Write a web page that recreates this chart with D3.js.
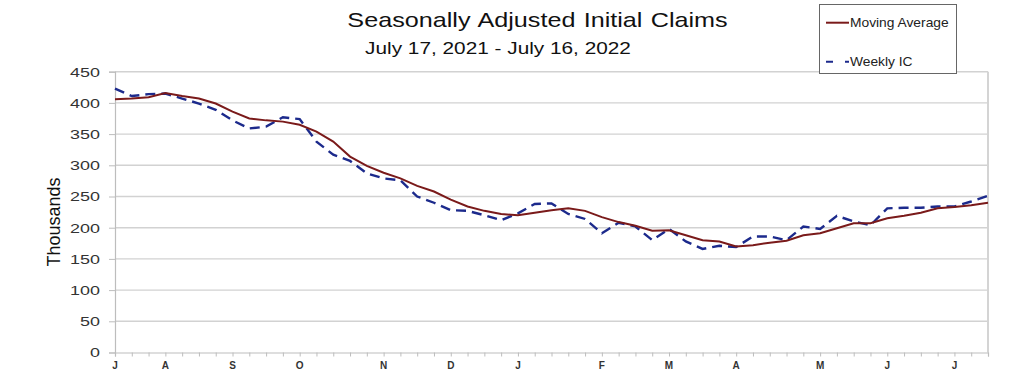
<!DOCTYPE html>
<html>
<head>
<meta charset="utf-8">
<script src="https://cdn.jsdelivr.net/npm/d3@7"></script>
<style>
  body { margin: 0; background: #fff; }
  svg { display: block; font-family: "Liberation Sans", Arial, sans-serif; }
</style>
</head>
<body>
<div id="chart"></div>
<script>
// weekly values, thousands, week ending Jul 17 2021 .. Jul 16 2022
var movingAverage = [406, 407, 409, 416, 411, 407, 399, 386, 375, 372, 370, 365, 354, 338,
  314, 299, 288, 279, 267, 258, 245, 234, 227, 222, 220, 224, 228, 231, 227, 217, 209,
  203, 195, 196, 188, 180, 178, 170, 172, 176, 179, 188, 191, 199, 207, 207, 215, 219,
  224, 231, 233, 236, 240]
var weeklyIC = [423, 411, 414, 415, 407, 399, 389, 372, 359, 362, 377, 374, 338, 317,
  307, 287, 279, 276, 250, 240, 228, 227, 220, 212, 223, 238, 239, 222, 214, 191, 208,
  202, 180, 198, 178, 166, 171, 169, 186, 186, 180, 202, 198, 219, 210, 204, 231, 232,
  232, 234, 234, 242, 251]
var monthLabels = ["J", "A", "S", "O", "N", "D", "J", "F", "M", "A", "M", "J", "J"]
var yTicks = [0, 50, 100, 150, 200, 250, 300, 350, 400, 450]

var startWeek = new Date(2021, 6, 17)
var weeks = movingAverage.map(function(d, i) { return d3.timeDay.offset(startWeek, i * 7) })

var width = 1024, height = 383
var plotLeft = 115, plotRight = 988, plotTop = 71.7, plotBottom = 352.5
// the source image is stretched sideways, so text is widened to match
var stretch = 1.3

var svg = d3.select("#chart").append("svg")
  .attr("width", width)
  .attr("height", height)

var x = d3.scaleTime().domain(d3.extent(weeks)).range([plotLeft, plotRight])
var y = d3.scaleLinear().domain([0, 450]).range([plotBottom, plotTop])

// gridlines
svg.append("g")
  .selectAll("line")
  .data(yTicks.filter(function(d) { return d > 0 }))
  .enter().append("line")
    .attr("x1", plotLeft)
    .attr("x2", plotRight)
    .attr("y1", function(d) { return y(d) })
    .attr("y2", function(d) { return y(d) })
    .attr("stroke", "#d2d2d2")
    .attr("stroke-width", 1.4)

// right border of plot area
svg.append("line")
  .attr("x1", plotRight).attr("x2", plotRight)
  .attr("y1", plotTop).attr("y2", plotBottom)
  .attr("stroke", "#d4d4d4")
  .attr("stroke-width", 2)

// y axis
var yAxis = svg.append("g")
  .attr("transform", "translate(" + plotLeft + ",0)")
  .call(d3.axisLeft(y).tickValues(yTicks).tickSize(6).tickPadding(8))
yAxis.select(".domain").attr("stroke", "#bdbdbd").attr("stroke-width", 1.2)
yAxis.selectAll(".tick line").attr("stroke", "#bdbdbd")
yAxis.selectAll(".tick text")
  .attr("x", -15 / 1.33)
  .attr("transform", "scale(1.33,1)")
  .attr("fill", "#333")
  .style("font-size", "13.5px")
  .style("font-family", "Liberation Sans, Arial, sans-serif")

// x axis: weekly ticks, month initials
var labelWeeks = weeks.filter(function(d, i) { return i == 0 || d.getDate() <= 7 })
var xAxis = svg.append("g")
  .attr("transform", "translate(0," + plotBottom + ")")
  .call(d3.axisBottom(x).tickValues(weeks).tickSize(4).tickFormat(""))
xAxis.select(".domain").attr("stroke", "#bdbdbd").attr("stroke-width", 1.2)
xAxis.selectAll(".tick line").attr("stroke", "#bdbdbd")

svg.append("g")
  .selectAll("text")
  .data(labelWeeks)
  .enter().append("text")
    .attr("x", function(d) { return x(d) })
    .attr("y", 368.5)
    .attr("text-anchor", "middle")
    .attr("fill", "#333")
    .style("font-size", "10px")
    .style("font-weight", "bold")
    .text(function(d, i) { return monthLabels[i] })

// y axis title
svg.append("text")
  .attr("transform", "translate(60,222) rotate(-90)")
  .attr("text-anchor", "middle")
  .attr("fill", "#111")
  .style("font-size", "18px")
  .text("Thousands")

// series
var line = d3.line()
  .x(function(d, i) { return x(weeks[i]) })
  .y(function(d) { return y(d) })

svg.append("path")
  .datum(weeklyIC)
  .attr("fill", "none")
  .attr("stroke", "#1c2a8c")
  .attr("stroke-width", 2.4)
  .attr("stroke-dasharray", "10,6")
  .attr("d", line)

svg.append("path")
  .datum(movingAverage)
  .attr("fill", "none")
  .attr("stroke", "#7a1a1a")
  .attr("stroke-width", 2)
  .attr("d", line)

// titles
svg.append("text")
  .attr("transform", "translate(537.5,27.3) scale(" + 1.26 + ",1)")
  .attr("text-anchor", "middle")
  .attr("fill", "#111")
  .style("font-size", "20px")
  .style("word-spacing", "1px")
  .text("Seasonally Adjusted Initial Claims")

svg.append("text")
  .attr("transform", "translate(498,54) scale(" + stretch + ",1)")
  .attr("text-anchor", "middle")
  .attr("fill", "#111")
  .style("font-size", "16px")
  .text("July 17, 2021 - July 16, 2022")

// legend
var legend = svg.append("g")
legend.append("rect")
  .attr("x", 819.5).attr("y", 4.5)
  .attr("width", 137).attr("height", 69)
  .attr("fill", "#fff")
  .attr("stroke", "#666")
  .attr("stroke-width", 1)

var legendItems = [
  { name: "Moving Average", color: "#7a1a1a", dash: null, y: 22.7 },
  { name: "Weekly IC", color: "#1c2a8c", dash: "7,12", y: 61.7 }
]
legend.selectAll("line.key")
  .data(legendItems)
  .enter().append("line")
    .attr("class", "key")
    .attr("x1", 826).attr("x2", 849)
    .attr("y1", function(d) { return d.y })
    .attr("y2", function(d) { return d.y })
    .attr("stroke", function(d) { return d.color })
    .attr("stroke-width", 2)
    .attr("stroke-dasharray", function(d) { return d.dash })
legend.selectAll("text")
  .data(legendItems)
  .enter().append("text")
    .attr("transform", function(d) { return "translate(850," + (d.y + 4) + ") scale(1.15,1)" })
    .attr("fill", "#222")
    .style("font-size", "12px")
    .text(function(d) { return d.name })
</script>
</body>
</html>
